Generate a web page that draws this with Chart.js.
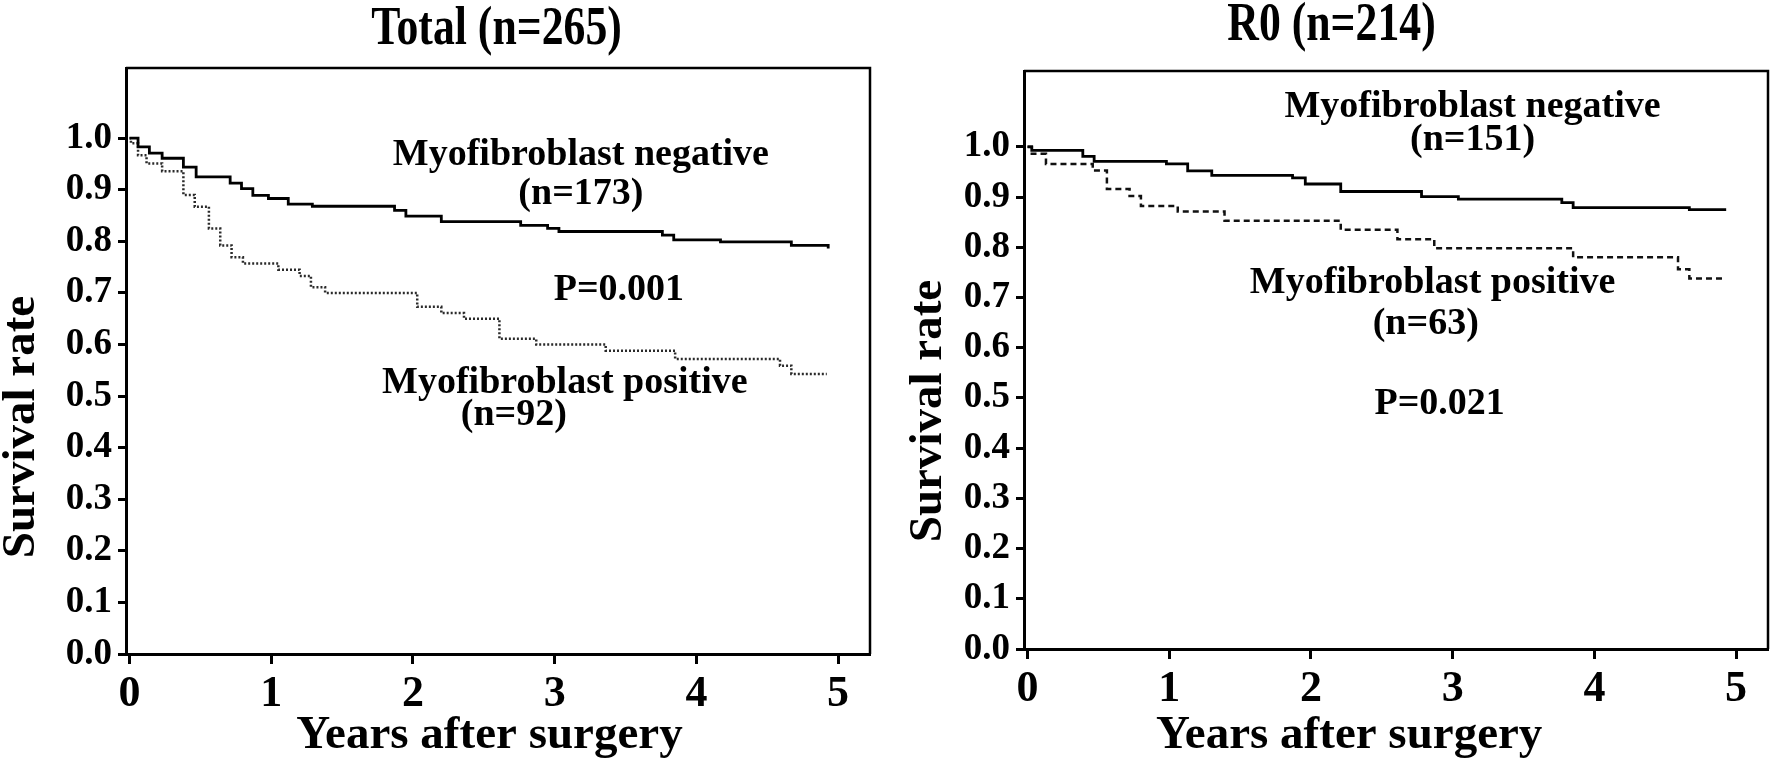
<!DOCTYPE html>
<html>
<head>
<meta charset="utf-8">
<script src="https://cdn.jsdelivr.net/npm/chart.js@4.4.1/dist/chart.umd.min.js"></script>
<style>
  html, body { margin: 0; padding: 0; background: #fff; }
  #wrap { position: relative; width: 1770px; height: 765px; }
  .panel { position: absolute; top: 0; width: 885px; height: 765px; }
  #left { left: 0; }
  #right { left: 885px; }
</style>
</head>
<body>
<div id="wrap">
  <div class="panel" id="left"><canvas id="totalChart"></canvas></div>
  <div class="panel" id="right"><canvas id="r0Chart"></canvas></div>
</div>
<script>
// axis ticks
var years = [0, 1, 2, 3, 4, 5];
var survivalTicks = [0, 0.1, 0.2, 0.3, 0.4, 0.5, 0.6, 0.7, 0.8, 0.9, 1.0];

// Total (n=265): Kaplan-Meier steps (time in years, survival after the step)
var totalNegTime = [0, 0.06, 0.14, 0.23, 0.38, 0.47, 0.71, 0.79, 0.87, 0.98, 1.12, 1.29, 1.87, 1.95, 2.20, 2.76, 2.95, 3.03, 3.76, 3.84, 4.17, 4.67, 4.93];
var totalNegSurv = [1.0, 0.983, 0.971, 0.961, 0.944, 0.925, 0.913, 0.902, 0.889, 0.883, 0.872, 0.868, 0.860, 0.849, 0.838, 0.831, 0.825, 0.819, 0.812, 0.803, 0.799, 0.792, 0.786];
var totalPosTime = [0, 0.01, 0.06, 0.12, 0.23, 0.38, 0.46, 0.56, 0.64, 0.72, 0.80, 1.05, 1.20, 1.28, 1.38, 2.03, 2.20, 2.36, 2.61, 2.87, 3.36, 3.85, 4.59, 4.67, 4.92];
var totalPosSurv = [1.0, 0.99, 0.967, 0.951, 0.936, 0.890, 0.867, 0.825, 0.792, 0.769, 0.757, 0.745, 0.733, 0.711, 0.700, 0.673, 0.661, 0.650, 0.611, 0.600, 0.588, 0.572, 0.559, 0.543, 0.543];

// R0 (n=214)
var r0NegTime = [0, 0.03, 0.39, 0.47, 0.98, 1.13, 1.30, 1.87, 1.96, 2.21, 2.78, 3.04, 3.77, 3.85, 4.67, 4.92];
var r0NegSurv = [1.0, 0.993, 0.981, 0.971, 0.966, 0.952, 0.943, 0.938, 0.926, 0.911, 0.901, 0.896, 0.889, 0.879, 0.875, 0.872];
var r0PosTime = [0, 0.03, 0.13, 0.46, 0.56, 0.72, 0.80, 1.06, 1.39, 2.21, 2.61, 2.87, 3.85, 4.59, 4.67, 4.92];
var r0PosSurv = [1.0, 0.986, 0.966, 0.953, 0.916, 0.902, 0.882, 0.871, 0.853, 0.835, 0.816, 0.798, 0.780, 0.756, 0.738, 0.738];

var serif = "'Liberation Serif', 'Times New Roman', serif";

function points(t, s) {
    return t.map(function (v, i) { return { x: v, y: s[i] }; });
}

// draws the top/right frame and all the free text of a panel
var kmText = {
    id: 'kmText',
    afterDraw: function (chart, args, opts) {
        var ctx = chart.ctx, a = chart.chartArea;
        var xs = chart.scales.x, ys = chart.scales.y;
        ctx.save();
        ctx.strokeStyle = '#000';
        ctx.lineWidth = 2.5;
        ctx.beginPath();
        ctx.moveTo(a.left, a.top);
        ctx.lineTo(a.right, a.top);
        ctx.lineTo(a.right, a.bottom);
        ctx.stroke();
        (opts.labels || []).forEach(function (l) {
            ctx.save();
            ctx.translate(xs.getPixelForValue(l.x), ys.getPixelForValue(l.y));
            if (l.rotate) ctx.rotate(l.rotate);
            ctx.scale(l.squeeze || 1, 1);
            ctx.font = 'bold ' + l.size + 'px ' + serif;
            ctx.fillStyle = '#000';
            ctx.textAlign = 'center';
            ctx.textBaseline = 'alphabetic';
            ctx.fillText(l.text, 0, 0);
            ctx.restore();
        });
        ctx.restore();
    }
};

function kmOptions(yMax, yWidth, xHeight, pad, labels) {
    return {
        responsive: true,
        maintainAspectRatio: false,
        animation: false,
        layout: { padding: pad },
        plugins: {
            legend: { display: false },
            tooltip: { enabled: false },
            kmText: { labels: labels }
        },
        scales: {
            x: {
                type: 'linear',
                min: -0.025,
                max: 5.225,
                afterBuildTicks: function (s) { s.ticks = years.map(function (v) { return { value: v }; }); },
                afterFit: function (s) { s.height = xHeight; },
                grid: { drawOnChartArea: false, tickLength: 10, tickWidth: 3, tickColor: '#000' },
                border: { display: true, color: '#000', width: 3 },
                ticks: {
                    color: '#000', padding: 4, maxRotation: 0, autoSkip: false,
                    font: { family: serif, size: 44, weight: 'bold' },
                    callback: function (v) { return String(v); }
                }
            },
            y: {
                type: 'linear',
                min: 0,
                max: yMax,
                afterBuildTicks: function (s) { s.ticks = survivalTicks.map(function (v) { return { value: v }; }); },
                afterFit: function (s) { s.width = yWidth; },
                grid: { drawOnChartArea: false, tickLength: 8, tickWidth: 3, tickColor: '#000' },
                border: { display: true, color: '#000', width: 3 },
                ticks: {
                    color: '#000', padding: 6, autoSkip: false,
                    font: { family: serif, size: 37, weight: 'bold' },
                    callback: function (v) { return v.toFixed(1); }
                }
            }
        }
    };
}

document.addEventListener('DOMContentLoaded', function () {
    var ctxTotal = document.getElementById('totalChart').getContext('2d');
    var chartTotal = new Chart(ctxTotal, {
        type: 'line',
        data: {
            datasets: [{
                label: 'Myofibroblast negative',
                data: points(totalNegTime, totalNegSurv),
                stepped: true,
                borderColor: '#000',
                borderWidth: 2.8,
                pointRadius: 0,
                fill: false
            }, {
                label: 'Myofibroblast positive',
                data: points(totalPosTime, totalPosSurv),
                stepped: true,
                borderColor: '#2a2a2a',
                borderWidth: 2.5,
                borderDash: [2, 2],
                pointRadius: 0,
                fill: false
            }]
        },
        options: kmOptions(1.136, 126, 111, { top: 68, right: 15, left: 0, bottom: 0 }, [
            { text: 'Total (n=265)', x: 2.59, y: 1.182, size: 54, squeeze: 0.81 },
            { text: 'Myofibroblast negative', x: 3.185, y: 0.948, size: 38 },
            { text: '(n=173)', x: 3.185, y: 0.872, size: 38 },
            { text: 'P=0.001', x: 3.453, y: 0.686, size: 38 },
            { text: 'Myofibroblast positive', x: 3.072, y: 0.506, size: 38 },
            { text: '(n=92)', x: 2.712, y: 0.444, size: 38 },
            { text: 'Years after surgery', x: 2.54, y: -0.182, size: 47 },
            { text: 'Survival rate', x: -0.671, y: 0.44, size: 47, rotate: -Math.PI / 2 }
        ]),
        plugins: [kmText]
    });

    var ctxR0 = document.getElementById('r0Chart').getContext('2d');
    var chartR0 = new Chart(ctxR0, {
        type: 'line',
        data: {
            datasets: [{
                label: 'Myofibroblast negative',
                data: points(r0NegTime, r0NegSurv),
                stepped: true,
                borderColor: '#000',
                borderWidth: 2.8,
                pointRadius: 0,
                fill: false
            }, {
                label: 'Myofibroblast positive',
                data: points(r0PosTime, r0PosSurv),
                stepped: true,
                borderColor: '#111',
                borderWidth: 2.5,
                borderDash: [6, 4],
                pointRadius: 0,
                fill: false
            }]
        },
        options: kmOptions(1.151, 139, 116, { top: 71, right: 2, left: 0, bottom: 0 }, [
            { text: 'R0 (n=214)', x: 2.145, y: 1.213, size: 54, squeeze: 0.81 },
            { text: 'Myofibroblast negative', x: 3.14, y: 1.06, size: 38 },
            { text: '(n=151)', x: 3.14, y: 0.994, size: 38 },
            { text: 'Myofibroblast positive', x: 2.858, y: 0.709, size: 38 },
            { text: '(n=63)', x: 2.81, y: 0.627, size: 38 },
            { text: 'P=0.021', x: 2.908, y: 0.468, size: 38 },
            { text: 'Years after surgery', x: 2.27, y: -0.197, size: 47 },
            { text: 'Survival rate', x: -0.614, y: 0.474, size: 47, rotate: -Math.PI / 2 }
        ]),
        plugins: [kmText]
    });
});
</script>
</body>
</html>
